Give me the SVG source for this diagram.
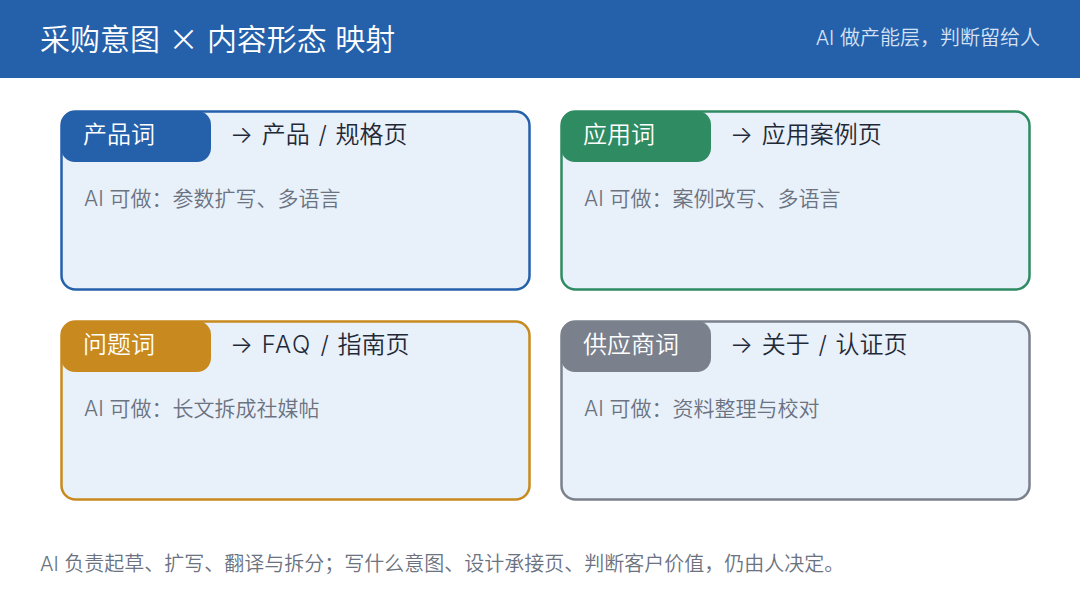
<svg xmlns="http://www.w3.org/2000/svg" width="1080" height="600" viewBox="0 0 1080 600">
<style>
text{font-family:Inter,"Noto Sans CJK SC",sans-serif;font-weight:350;}
.cjk{font-family:"Noto Sans CJK SC",sans-serif;}
.card{fill:#E8F0FA;stroke-width:2.5;}
.tag{font-size:24px;fill:#FFFFFF;}
.ttl{font-size:24px;fill:#1F2937;word-spacing:2px;}
.body{font-size:21px;fill:#6B7280;}
</style>
<rect x="0" y="0" width="1080" height="78" fill="#2560AB"/>
<text x="40" y="50" font-size="30" fill="#FFFFFF">采购意图 <tspan class="cjk">×</tspan> 内容形态 映射</text>
<text x="1040" y="45" font-size="20" fill="#D6E2F5" text-anchor="end">AI 做产能层，判断留给人</text>
<g id="connectors"/>
<g id="node-product">
<rect class="card" x="61.5" y="111.5" width="468" height="178" rx="14" stroke="#2560AB"/>
<rect x="61" y="111" width="150" height="51" rx="14" fill="#2560AB"/>
<text class="tag" x="83" y="143">产品词</text>
<text class="ttl" x="230" y="143">→ 产品 / 规格页</text>
<text class="body" x="84" y="206">AI 可做：参数扩写、多语言</text>
</g>
<g id="node-application">
<rect class="card" x="561.5" y="111.5" width="468" height="178" rx="14" stroke="#2E8B62"/>
<rect x="561" y="111" width="150" height="51" rx="14" fill="#2E8B62"/>
<text class="tag" x="583" y="143">应用词</text>
<text class="ttl" x="730" y="143">→ 应用案例页</text>
<text class="body" x="584" y="206">AI 可做：案例改写、多语言</text>
</g>
<g id="node-question">
<rect class="card" x="61.5" y="321.5" width="468" height="178" rx="14" stroke="#C88A1E"/>
<rect x="61" y="321" width="150" height="51" rx="14" fill="#C88A1E"/>
<text class="tag" x="83" y="353">问题词</text>
<text class="ttl" x="230" y="353">→ <tspan letter-spacing="1.5">FAQ</tspan> / 指南页</text>
<text class="body" x="84" y="416">AI 可做：长文拆成社媒帖</text>
</g>
<g id="node-supplier">
<rect class="card" x="561.5" y="321.5" width="468" height="178" rx="14" stroke="#7A808C"/>
<rect x="561" y="321" width="150" height="51" rx="14" fill="#7A808C"/>
<text class="tag" x="583" y="353">供应商词</text>
<text class="ttl" x="730" y="353">→ 关于 / 认证页</text>
<text class="body" x="584" y="416">AI 可做：资料整理与校对</text>
</g>
<text x="40" y="571" font-size="20" fill="#6B7280">AI 负责起草、扩写、翻译与拆分；写什么意图、设计承接页、判断客户价值，仍由人决定。</text>
</svg>
